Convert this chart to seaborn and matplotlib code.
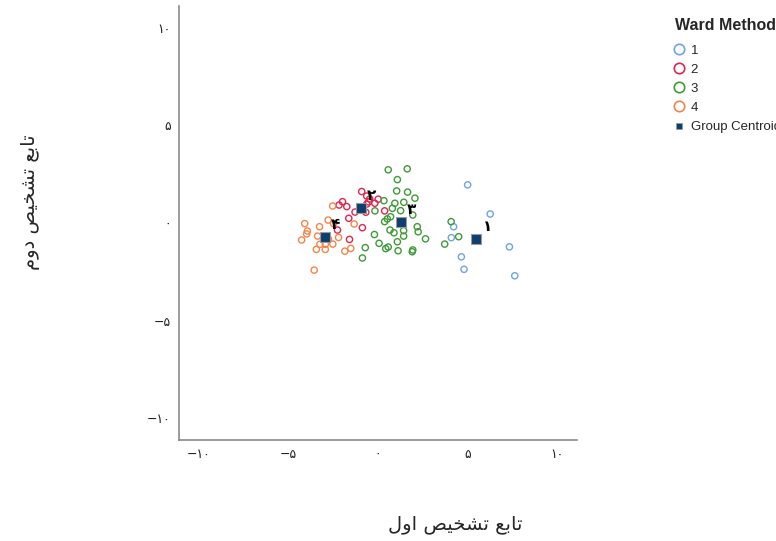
import matplotlib.pyplot as plt
import pandas as pd
import seaborn as sns
from matplotlib.lines import Line2D

sns.set_style("white")
plt.rcParams["font.family"] = ["DejaVu Sans"]

# discriminant scores, one pair of lists per Ward cluster
g1_x = [5.0, 6.26, 4.22, 4.09, 7.33, 4.65, 4.80, 7.63]
g1_y = [1.95, 0.46, -0.19, -0.75, -1.22, -1.73, -2.37, -2.70]

g2_x = [-0.91, -0.63, -0.46, -0.52, 0.01, -0.18, -0.63, -1.98, -2.17, -1.74,
        -1.28, -0.68, 0.37, -1.63, -0.87, -2.26, -1.59]
g2_y = [1.61, 1.38, 1.23, 1.08, 1.22, 1.01, 0.97, 1.09, 0.92, 0.84,
        0.56, 0.55, 0.62, 0.24, -0.24, -0.36, -0.84]

g3_x = [0.57, 1.63, 1.08, 1.04, 1.65, 2.06, 0.33, 0.94, 1.44, -0.17, 0.80, 1.26,
        1.94, 0.70, 0.52, 0.37, 2.19, 2.24, 0.67, 0.89, 1.43, 1.43, -0.20, 2.65,
        1.08, 0.06, 0.57, 0.43, -0.71, 1.94, 1.91, 1.12, -0.87, 4.08, 4.50, 3.72]
g3_y = [2.72, 2.77, 2.22, 1.64, 1.58, 1.27, 1.14, 1.01, 1.06, 0.62, 0.75, 0.63,
        0.41, 0.32, 0.21, 0.07, -0.19, -0.45, -0.36, -0.50, -0.39, -0.67, -0.59, -0.81,
        -0.96, -1.04, -1.23, -1.31, -1.26, -1.38, -1.47, -1.42, -1.79, 0.07, -0.70, -1.08]

g4_x = [-2.53, -2.78, -2.48, -1.33, -4.09, -3.26, -3.94, -3.98, -3.37, -4.26,
        -2.20, -2.76, -3.24, -2.94, -2.52, -3.44, -2.94, -1.85, -1.52, -3.56]
g4_y = [0.87, 0.15, -0.03, -0.05, -0.03, -0.19, -0.41, -0.56, -0.67, -0.87,
        -0.74, -0.82, -1.09, -1.09, -1.08, -1.35, -1.35, -1.44, -1.30, -2.41]

groups = ["1", "2", "3", "4"]
centroid_x = [5.48, -0.96, 1.26, -2.98]
centroid_y = [-0.82, 0.75, 0.05, -0.70]
centroid_labels = ["\u06F1", "\u06F2", "\u06F3", "\u06F4"]

ticks = [-10, -5, 0, 5, 10]
tick_labels = ["\u2212\u06F1\u06F0", "\u2212\u06F5", "\u06F0", "\u06F5", "\u06F1\u06F0"]

# Persian axis titles, shaped + in visual order (matplotlib has no bidi)
xlabel = "\uFEDD\uFEED\uFE8D \uFEBA\uFEF4\uFEA8\uFEB8\uFE97 \uFECA\uFE91\uFE8E\uFE97"
ylabel = "\uFEE1\uFEED\uFEA9 \uFEBA\uFEF4\uFEA8\uFEB8\uFE97 \uFECA\uFE91\uFE8E\uFE97"

palette = {"1": "#6fa3e6", "2": "#e3244f", "3": "#3f9a38", "4": "#f5844a"}
centroid_color = "#0d3f6e"

scores = pd.concat(
    [
        pd.DataFrame({"x": xs, "y": ys, "group": g})
        for g, xs, ys in zip(groups, [g1_x, g2_x, g3_x, g4_x], [g1_y, g2_y, g3_y, g4_y])
    ],
    ignore_index=True,
)
centroids = pd.DataFrame({"x": centroid_x, "y": centroid_y, "label": centroid_labels})

fig = plt.figure(figsize=(7.76, 5.41), dpi=100)
ax = fig.add_axes([179 / 776, 1 - 440 / 541, 398 / 776, 434 / 541])

sns.scatterplot(data=scores, x="x", y="y", hue="group", palette=palette,
                s=20, linewidth=1.0, legend=False, ax=ax)
# open circles: move hue colour from face to edge
pts = ax.collections[0]
pts.set_edgecolors(pts.get_facecolors())
pts.set_facecolors("none")

sns.scatterplot(data=centroids, x="x", y="y", marker="s", s=55,
                color=centroid_color, edgecolor="#9a9a9a", linewidth=0.8,
                legend=False, ax=ax, zorder=5)
for _, row in centroids.iterrows():
    ax.annotate(row["label"], (row["x"], row["y"]), xytext=(8, 9),
                textcoords="offset points", ha="center", va="center",
                fontsize=11, fontweight="bold", color="black", zorder=6)

ax.set_xlim(-11.1, 11.1)
ax.set_ylim(-11.1, 11.1)
ax.set_xticks(ticks)
ax.set_xticklabels(tick_labels)
ax.set_yticks(ticks)
ax.set_yticklabels(tick_labels)
ax.tick_params(length=0, labelsize=9, colors="#222222", pad=6)
ax.set_xlabel("")
ax.set_ylabel("")
sns.despine(ax=ax)
for side in ["left", "bottom"]:
    ax.spines[side].set_color("#8a8a8a")
    ax.spines[side].set_linewidth(1.2)

fig.text(455 / 776, 1 - 524 / 541, xlabel, ha="center", va="center", fontsize=14)
fig.text(30 / 776, 1 - 202 / 541, ylabel, ha="center", va="center",
         fontsize=14, rotation=90)

# legend title drawn separately so its gap to the entries can be set
fig.text(675 / 776, 1 - 25 / 541, "Ward Method", ha="left", va="center",
         family="Liberation Sans", fontweight="bold", fontsize=11.5)
handles = [
    Line2D([], [], marker="o", linestyle="none", markersize=7.5, markerfacecolor="none",
           markeredgecolor=palette[g], markeredgewidth=1.2, label=g)
    for g in groups
]
handles.append(Line2D([], [], marker="s", linestyle="none", markersize=4,
                      color=centroid_color, markeredgecolor="#9a9a9a",
                      markeredgewidth=0.5, label="Group Centroid"))
fig.legend(handles=handles, loc="upper left",
           bbox_to_anchor=(673.5 / 776, 1 - 44.5 / 541), frameon=False,
           handlelength=0.9, handletextpad=0.4,
           labelspacing=0.52, borderpad=0, borderaxespad=0,
           prop={"family": "Liberation Sans", "size": 9.5})

fig.savefig("out.png", dpi=100)
